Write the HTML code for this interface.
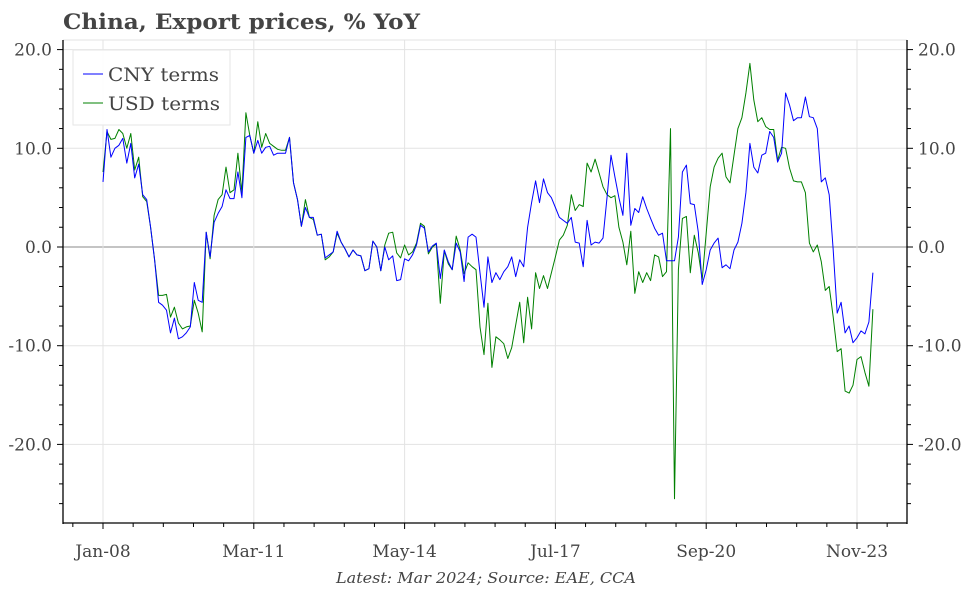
<!DOCTYPE html>
<html><head><meta charset="utf-8"><style>
html,body{margin:0;padding:0;background:#fff;}
svg text{font-family:"DejaVu Serif","Liberation Serif",serif;fill:#444;}
</style></head><body>
<svg id="chart" width="972" height="589" viewBox="0 0 972 589" xmlns="http://www.w3.org/2000/svg">
<text x="63" y="29" font-size="21" font-weight="bold" textLength="357" lengthAdjust="spacingAndGlyphs">China, Export prices, % YoY</text>
<g id="grid"></g>
<g id="axes"></g>
<g id="series"></g>
<g>
<rect x="73" y="50" width="157" height="75" fill="#fff" fill-opacity="0.9" stroke="#e6e6e6"/>
<g><line x1="83" y1="74" x2="103" y2="74" stroke="#0000ff" stroke-width="1"/><text x="108" y="81" font-size="19" textLength="111" lengthAdjust="spacingAndGlyphs">CNY terms</text></g>
<g><line x1="83" y1="103" x2="103" y2="103" stroke="#008000" stroke-width="1"/><text x="108" y="110" font-size="19" textLength="112" lengthAdjust="spacingAndGlyphs">USD terms</text></g>
</g>
<text x="486" y="583" font-size="15" font-style="italic" text-anchor="middle" textLength="300" lengthAdjust="spacingAndGlyphs">Latest: Mar 2024; Source: EAE, CCA</text>
</svg>
<script>
const cnyValues=[6.6,11.9,9.1,10,10.3,11,8.5,10.5,7,8.4,5.3,4.8,
2,-1.3,-5.6,-5.9,-6.4,-8.7,-7.2,-9.3,-9.1,-8.7,-8.1,-3.6,
-5.4,-5.6,1.5,-1,2.5,3.4,4.1,5.8,4.9,4.9,7.6,5,
11.1,11.3,9.5,10.8,9.5,10.1,10.2,9.3,9.5,9.5,9.5,11.1,
6.5,4.8,2.1,4,3,3,1.2,1.3,-1.1,-0.8,-0.5,1.6,
0.5,-0.2,-1,-0.3,-0.8,-0.9,-2.4,-2.2,0.6,0,-2.4,0,
-1.3,-0.9,-3.4,-3.3,-1.2,-1.4,-0.8,0.2,2.2,1.9,-0.5,0.1,
0.4,-3.2,-0.3,-1.5,-2.3,0.4,-0.5,-3.5,1,1.3,1,-2.6,
-6.1,-1,-3.6,-2.6,-3.3,-2.5,-2,-1,-3,-1.3,-2,2,
4.5,6.7,4.5,6.9,5.5,5,4,3,2.7,2.4,3,0.5,
0.4,-2,2.7,0.2,0.5,0.4,0.9,5,9.3,7.1,5,3.2,
9.5,2.2,3.9,3.5,5.1,3.9,2.9,1.9,1.2,1.4,-1.4,-1.4,
-1.4,1,7.6,8.3,4.4,4.3,1.5,-3.8,-2.3,-0.3,0.4,0.9,
-2.1,-1.8,-2.2,-0.3,0.5,2.4,5.5,10.5,8.1,7.5,9.3,9.5,
11.7,11.1,8.6,9.5,15.6,14.4,12.8,13.1,13.1,15.2,13.2,13.1,
12,6.6,7,5.3,-0.3,-6.7,-5.6,-8.7,-8,-9.7,-9.2,-8.5,
-8.8,-7.6,-2.6];
const usdValues=[7.6,11.7,10.9,11,11.9,11.5,10,11.5,7.8,9.1,5.1,4.6,
2,-1.3,-4.9,-4.9,-4.8,-7.1,-6.1,-7.7,-8.3,-8.1,-8,-5.4,
-6.7,-8.6,1.5,-1.2,3.2,4.8,5.3,8.1,5.5,5.8,9.5,5.5,
13.6,11.3,9.5,12.7,10.1,11.5,10.5,10.2,9.9,9.8,9.8,11.1,
6.5,4.8,2.1,4.8,3,2.8,1.2,1.3,-1.3,-1,-0.5,1.4,
0.5,-0.2,-1,-0.3,-0.8,-0.9,-2.4,-2.2,0.6,0,-2.4,0.2,
1.4,1.5,-0.6,-1.1,0.2,-0.8,-0.5,0.4,2.4,2.1,-0.7,0,
0.3,-5.7,-0.4,-1.7,-2.3,1.1,-0.3,-2.7,-1.6,-2,-2.3,-8.1,
-10.9,-5.7,-12.2,-9.1,-9.4,-9.8,-11.3,-10.2,-7.9,-5.6,-9.7,-5.1,
-8.3,-2.6,-4.2,-2.9,-4.2,-2.6,-1,0.7,1.2,2.2,5.3,3.7,
4.3,4.1,8.5,7.6,8.9,7.5,6.1,5.3,5,5.2,2,0.5,
-1.8,1.6,-4.7,-2.5,-3.6,-2.6,-3.4,-0.8,-1,-3,-2.5,12,
-25.5,-2.3,2.9,3.1,-2.6,1.2,-0.6,-3.3,1.4,6.1,8.1,9,
9.5,7.1,6.5,9.3,12,13.1,15.6,18.6,14.9,12.7,13.1,12.2,
11.9,11.9,8.8,10.1,10,8,6.7,6.6,6.6,5.5,0.4,-0.5,
0.2,-1.5,-4.4,-4,-7.1,-10.6,-10.3,-14.6,-14.8,-14,-11.4,-11.1,
-12.7,-14.1,-6.3];
const xTickLabels=["Jan-08","Mar-11","May-14","Jul-17","Sep-20","Nov-23"];
const xTickMonths=[0,38,76,114,152,190];
const yTickValues=[-20,-10,0,10,20];
const yTickLabels=["-20.0","-10.0","0.0","10.0","20.0"];

const NS="http://www.w3.org/2000/svg";
const L=63,R=907,T=40,B=523;
function xScale(m){return 103+m*(754/190);}
function yScale(v){return 247-v*9.87;}
function mk(tag,attrs,parent){const e=document.createElementNS(NS,tag);for(const k in attrs)e.setAttribute(k,attrs[k]);parent.appendChild(e);return e;}
const grid=document.getElementById('grid'),axes=document.getElementById('axes'),series=document.getElementById('series');

yTickValues.forEach((v,i)=>{
  const y=yScale(v);
  const g=mk('line',{x1:L,x2:R,y1:y,y2:y,stroke:v===0?'#888':'#e3e3e3','stroke-width':1},grid);
  
  
  const tl=mk('text',{x:52,y:y+6,'font-size':17,'text-anchor':'end'},axes);
  tl.textContent=yTickLabels[i];
  
  
  const tr=mk('text',{x:918,y:y+6,'font-size':17},axes);
  tr.textContent=yTickLabels[i];
  
  
});
mk('line',{x1:L,x2:R,y1:T,y2:T,stroke:'#e3e3e3'},grid);
for(let v=-26;v<=22;v+=2){
  const y=yScale(v); if(y<T||y>B)continue;
  const len=(v%10===0)?6:4;
  mk('line',{x1:L-len,x2:L,y1:y,y2:y,stroke:'#000'},axes);
  mk('line',{x1:R,x2:R+len,y1:y,y2:y,stroke:'#000'},axes);
}
xTickMonths.forEach((m,i)=>{
  const x=xScale(m);
  const g=mk('line',{x1:x,x2:x,y1:T,y2:B,stroke:'#e3e3e3'},grid);
  
  
  const t=mk('text',{x:x,y:557,'font-size':17,'text-anchor':'middle'},axes);
  t.textContent=xTickLabels[i];
  
  
});
for(let k=-1;k<=26;k++){
  const m=k*7.6; const x=xScale(m); if(x<L||x>R)continue;
  const major=(k%5===0);
  mk('line',{x1:x,x2:x,y1:B,y2:B+(major?6:4),stroke:'#000'},axes);
}
const la=mk('line',{x1:L,x2:L,y1:T,y2:B+1,stroke:'#000','stroke-width':1.3},axes);


const ra=mk('line',{x1:R,x2:R,y1:T,y2:B+1,stroke:'#000','stroke-width':1.3},axes);


const ba=mk('line',{x1:L,x2:R,y1:B,y2:B,stroke:'#000','stroke-width':1.3},axes);



function path(vals){return vals.map((v,i)=>(i?'L':'M')+xScale(i).toFixed(1)+','+yScale(v).toFixed(1)).join('');}
const pu=mk('path',{d:path(usdValues),fill:'none',stroke:'#008000','stroke-width':1,'stroke-linejoin':'round'},series);


const pc=mk('path',{d:path(cnyValues),fill:'none',stroke:'#0000ff','stroke-width':1,'stroke-linejoin':'round'},series);


</script>
</body></html>
